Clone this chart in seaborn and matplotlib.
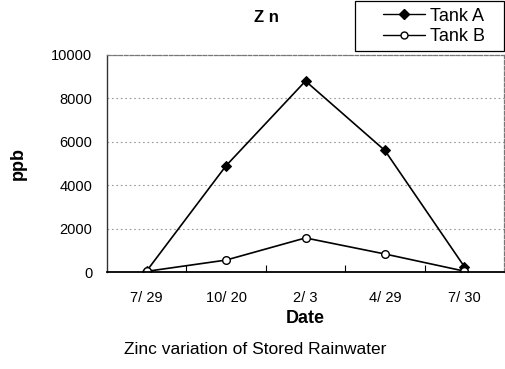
import matplotlib
matplotlib.use("Agg")
import matplotlib.pyplot as plt
import seaborn as sns
import pandas as pd
from matplotlib.lines import Line2D
from matplotlib.patches import Rectangle

dates = ["7/29", "10/20", "2/3", "4/29", "7/30"]
tank_a = [50, 4900, 8800, 5600, 250]
tank_b = [30, 550, 1570, 830, 40]
yticks = [0, 2000, 4000, 6000, 8000, 10000]

sns.set_style("white")
plt.rcParams['font.family'] = ['Liberation Sans', 'DejaVu Sans']
plt.rcParams['text.color'] = 'black'
plt.rcParams['axes.labelcolor'] = 'black'
plt.rcParams['xtick.color'] = 'black'
plt.rcParams['ytick.color'] = 'black'

df = pd.DataFrame({
    "Date": dates * 2,
    "ppb": tank_a + tank_b,
    "Series": ["Tank A"] * len(dates) + ["Tank B"] * len(dates),
})

W, H = 506, 369
fig = plt.figure(figsize=(W / 100, H / 100), dpi=100)
ax = fig.add_axes([107/W, 1 - 272/H, 397/W, 217/H])

sns.lineplot(data=df[df.Series == "Tank A"], x="Date", y="ppb", sort=False, ax=ax,
             color="black", lw=1.2, marker="D", markersize=5.5,
             markerfacecolor="black", markeredgecolor="black")
sns.lineplot(data=df[df.Series == "Tank B"], x="Date", y="ppb", sort=False, ax=ax,
             color="black", lw=1.2, marker="o", markersize=5.5,
             markerfacecolor="white", markeredgecolor="black", markeredgewidth=1.0)

ax.set_xlim(-0.5, len(dates) - 0.5)
ax.set_ylim(0, 10000)
ax.set_yticks(yticks)
ax.set_yticklabels([str(v) for v in yticks], fontsize=10.5)
ax.set_xticks(range(len(dates)))
ax.set_xticklabels([d.replace("/", "/ ") for d in dates], fontsize=10.5)
ax.tick_params(axis="x", length=0, pad=14)
ax.tick_params(axis="y", length=0, pad=10.5)
# boundary ticks on x axis
ax.set_xticks([i + 0.5 for i in range(len(dates) - 1)], minor=True)
ax.tick_params(axis="x", which="minor", bottom=True, direction="in", length=5, width=0.8, color="black")

ax.grid(axis="y", color="#999999", linestyle=(0, (1.5, 2.5)), lw=0.8)
ax.set_axisbelow(True)
for side in ["top", "right"]:
    ax.spines[side].set_color("#777777")
    ax.spines[side].set_linestyle((0, (3, 1.5)))
    ax.spines[side].set_linewidth(0.9)
ax.spines["left"].set_color("#333333")
ax.spines["left"].set_linewidth(1.0)
ax.spines["bottom"].set_color("black")
ax.spines["bottom"].set_linewidth(1.3)

ax.set_xlabel("Date", fontsize=13, fontweight="bold", labelpad=3)
ax.set_ylabel("ppb", fontsize=13, fontweight="bold")
ax.yaxis.set_label_coords((27 - 107) / 397, 0.5)
fig.text(266/W, 1 - 17/H, "Z n", ha="center", va="center", fontsize=12, fontweight="bold")
fig.text(255/W, 1 - 349/H, "Zinc variation of Stored Rainwater", ha="center", va="center", fontsize=12.5)

handles = [
    Line2D([], [], color="black", lw=1.0, marker="D", markersize=5, markerfacecolor="black"),
    Line2D([], [], color="black", lw=1.0, marker="o", markersize=5, markerfacecolor="white"),
]
leg = fig.legend(handles, ["Tank A", "Tank B"], loc="center left",
                 bbox_to_anchor=(383/W, 1 - 26.5/H), fontsize=13, frameon=False,
                 handlelength=2.3, borderpad=0, labelspacing=0.2, handletextpad=0.3,
                 borderaxespad=0)
fig.patches.append(Rectangle((355/W, 1 - 51/H), 149.5/W, 50/H, transform=fig.transFigure,
                             fill=False, edgecolor="black", lw=0.9, figure=fig))

fig.savefig("out.png", dpi=100)
